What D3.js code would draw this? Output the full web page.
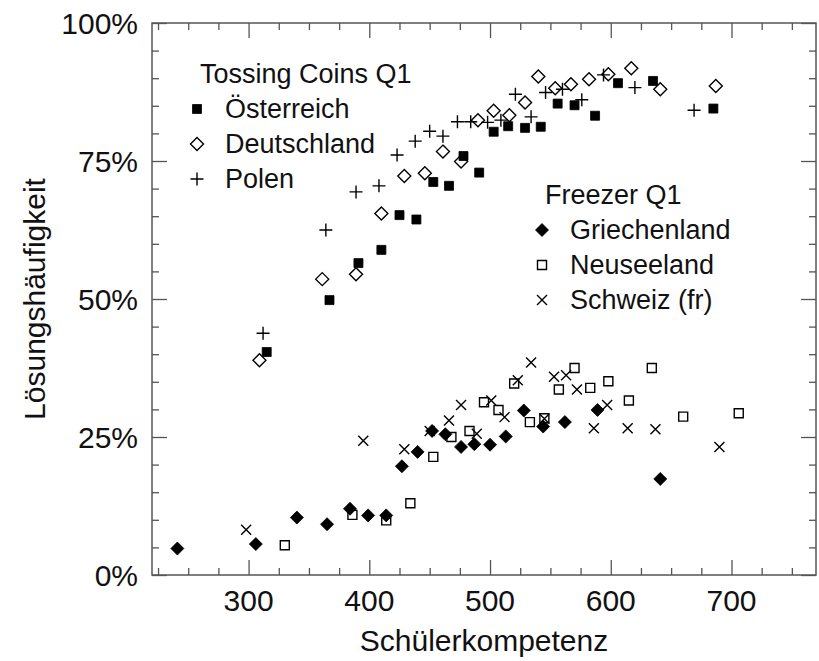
<!DOCTYPE html>
<html>
<head>
<meta charset="utf-8">
<script src="https://cdn.jsdelivr.net/npm/d3@7"></script>
<style>
  body { margin: 0; background: #fff; }
  svg text { font-family: "Liberation Sans", Arial, sans-serif; fill: #111; }
</style>
</head>
<body>
<div id="chart"></div>
<script>
// Tossing Coins Q1: [Schülerkompetenz, Lösungshäufigkeit in %]
const oesterreich = [[315,40.4],[367,49.8],[391,56.5],[410,58.9],[425,65.2],[439,64.4],[453,71.2],[466,70.5],[478,75.9],[491,72.9],[503,80.3],[515,81.3],[529,81.0],[542,81.2],[556,85.4],[570,85.1],[587,83.2],[606,89.1],[635,89.5],[685,84.5]];
const deutschland = [[309,38.9],[361,53.6],[389,54.5],[410,65.5],[429,72.3],[446,72.8],[461,76.7],[476,74.9],[490,82.4],[503,84.1],[516,83.3],[529,85.6],[540,90.3],[554,88.2],[567,88.9],[582,89.8],[598,90.7],[617,91.8],[641,88.0],[687,88.6]];
const polen = [[312,43.8],[364,62.5],[389,69.4],[408,70.5],[423,76.1],[438,78.6],[450,80.4],[461,79.5],[473,82.1],[484,82.1],[498,82.0],[509,82.4],[521,87.1],[534,83.0],[546,87.4],[560,88.0],[576,86.1],[594,90.6],[620,88.3],[669,84.2]];

// Freezer Q1
const griechenland = [[241,4.8],[306,5.6],[340,10.4],[365,9.2],[384,12.0],[399,10.8],[414,10.8],[427,19.7],[440,22.3],[452,26.1],[463,25.5],[476,23.2],[487,23.7],[500,23.6],[513,25.1],[528,29.8],[544,26.9],[562,27.7],[589,29.9],[641,17.4]];
const neuseeland = [[330,5.4],[386,10.9],[414,9.9],[434,13.0],[453,21.4],[468,25.0],[483,26.1],[495,31.3],[507,29.9],[520,34.7],[533,27.7],[545,28.4],[557,33.6],[570,37.5],[583,33.9],[598,35.1],[615,31.6],[634,37.5],[660,28.7],[706,29.3]];
const schweiz = [[298,8.2],[395,24.3],[429,22.8],[450,26.1],[466,28.0],[476,30.8],[489,25.6],[501,31.6],[512,28.6],[523,35.3],[534,38.5],[545,28.3],[553,35.9],[563,36.2],[572,33.6],[586,26.6],[597,30.8],[614,26.6],[637,26.4],[690,23.2]];

const xTicks = [300, 400, 500, 600, 700];
const yTicks = [0, 25, 50, 75, 100];

const groups = [
  { title: 'Tossing Coins Q1', series: [
    { name: 'Österreich', data: oesterreich, shape: 'square' },
    { name: 'Deutschland', data: deutschland, shape: 'diamondOpen' },
    { name: 'Polen', data: polen, shape: 'plus' }
  ]},
  { title: 'Freezer Q1', series: [
    { name: 'Griechenland', data: griechenland, shape: 'diamond' },
    { name: 'Neuseeland', data: neuseeland, shape: 'squareOpen' },
    { name: 'Schweiz (fr)', data: schweiz, shape: 'cross' }
  ]}
];

const width = 819, height = 661;
const margin = { left: 152, right: 3, top: 23, bottom: 86 };

const svg = d3.select('#chart').append('svg')
  .attr('width', width)
  .attr('height', height);

const x = d3.scaleLinear().domain([220, 770]).range([margin.left, width - margin.right]);
const y = d3.scaleLinear().domain([0, 100]).range([height - margin.bottom, margin.top]);

const axisColor = '#555';

// axes with inward ticks on all four sides
const xMinor = d3.range(225, 770, 25).filter(v => v % 100 !== 0);
const yMinor = d3.range(5, 100, 5).filter(v => v % 25 !== 0);

function tickLines(g) {
  g.selectAll('.domain').remove();
  g.selectAll('line').attr('stroke', axisColor).attr('stroke-width', 1.3);
}

svg.append('g').attr('transform', `translate(0,${y(0)})`)
  .call(d3.axisBottom(x).tickValues(xTicks).tickSize(-15).tickFormat(''))
  .call(tickLines);
svg.append('g').attr('transform', `translate(0,${y(0)})`)
  .call(d3.axisBottom(x).tickValues(xMinor).tickSize(-7).tickFormat(''))
  .call(tickLines);
svg.append('g').attr('transform', `translate(0,${y(100)})`)
  .call(d3.axisTop(x).tickValues(xTicks).tickSize(-15).tickFormat(''))
  .call(tickLines);
svg.append('g').attr('transform', `translate(0,${y(100)})`)
  .call(d3.axisTop(x).tickValues(xMinor).tickSize(-7).tickFormat(''))
  .call(tickLines);
svg.append('g').attr('transform', `translate(${x(220)},0)`)
  .call(d3.axisLeft(y).tickValues(yTicks).tickSize(-15).tickFormat(''))
  .call(tickLines);
svg.append('g').attr('transform', `translate(${x(220)},0)`)
  .call(d3.axisLeft(y).tickValues(yMinor).tickSize(-7).tickFormat(''))
  .call(tickLines);
svg.append('g').attr('transform', `translate(${x(770)},0)`)
  .call(d3.axisRight(y).tickValues(yTicks).tickSize(-15).tickFormat(''))
  .call(tickLines);
svg.append('g').attr('transform', `translate(${x(770)},0)`)
  .call(d3.axisRight(y).tickValues(yMinor).tickSize(-7).tickFormat(''))
  .call(tickLines);

svg.append('rect')
  .attr('x', x(220)).attr('y', y(100))
  .attr('width', x(770) - x(220)).attr('height', y(0) - y(100))
  .attr('fill', 'none').attr('stroke', axisColor).attr('stroke-width', 1.5);

// tick labels
svg.selectAll('.xlab').data(xTicks).enter().append('text')
  .attr('x', d => x(d)).attr('y', y(0) + 36)
  .attr('text-anchor', 'middle').style('font-size', '30px')
  .text(d => d);
svg.selectAll('.ylab').data(yTicks).enter().append('text')
  .attr('x', 138).attr('y', d => y(d)).attr('dy', '0.35em')
  .attr('text-anchor', 'end').style('font-size', '30px')
  .text(d => d + '%');

// axis titles
svg.append('text')
  .attr('x', (x(220) + x(770)) / 2).attr('y', 651)
  .attr('text-anchor', 'middle').style('font-size', '30px')
  .text('Schülerkompetenz');
svg.append('text')
  .attr('transform', `translate(45,${(y(0) + y(100)) / 2}) rotate(-90)`)
  .attr('text-anchor', 'middle').style('font-size', '30px')
  .text('Lösungshäufigkeit');

// marker shapes
function shapePath(shape) {
  switch (shape) {
    case 'square': case 'squareOpen': return 'M-4.5,-4.5H4.5V4.5H-4.5Z';
    case 'diamond': case 'diamondOpen': return 'M0,-6.5L6.5,0L0,6.5L-6.5,0Z';
    case 'plus': return 'M-6.5,0H6.5M0,-6.5V6.5';
    case 'cross': return 'M-5,-5L5,5M-5,5L5,-5';
  }
}
function styleShape(sel, shape) {
  const filled = shape === 'square' || shape === 'diamond';
  sel.attr('d', shapePath(shape))
    .attr('fill', filled ? '#000' : 'none')
    .attr('stroke', '#000')
    .attr('stroke-width', filled ? 0.8 : 1.4);
}

const plot = svg.append('g');
groups.forEach(grp => {
  grp.series.forEach(s => {
    plot.selectAll(null).data(s.data).enter().append('path')
      .attr('transform', d => `translate(${x(d[0])},${y(d[1])})`)
      .call(styleShape, s.shape);
  });
});

// legends
const legendPos = [{ x: 200, y: 83 }, { x: 545, y: 204 }];
groups.forEach((grp, gi) => {
  const lp = legendPos[gi];
  const lg = svg.append('g');
  lg.append('text').attr('x', lp.x).attr('y', lp.y)
    .style('font-size', '27px').text(grp.title);
  grp.series.forEach((s, i) => {
    const by = lp.y + 35 * (i + 1);
    lg.append('path')
      .attr('transform', `translate(${lp.x - 3},${by - 9})`)
      .call(styleShape, s.shape);
    lg.append('text').attr('x', lp.x + 25).attr('y', by)
      .style('font-size', '27px').text(s.name);
  });
});
</script>
</body>
</html>
